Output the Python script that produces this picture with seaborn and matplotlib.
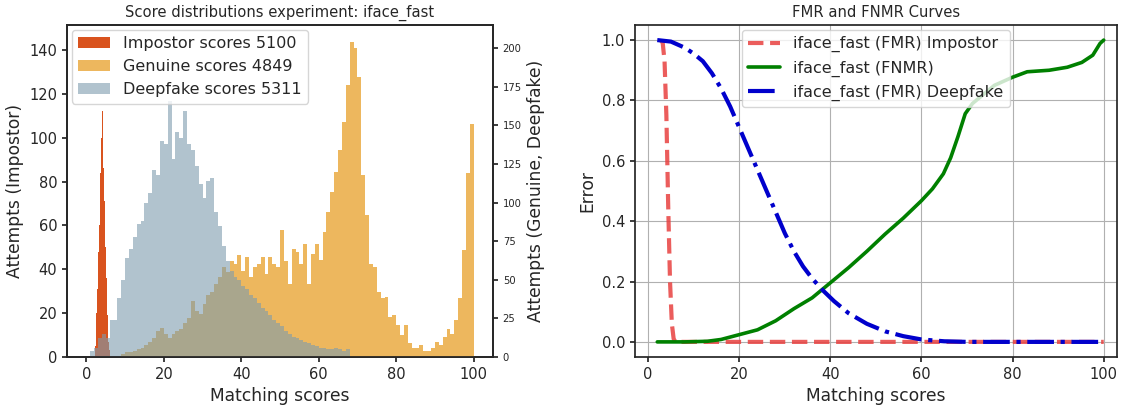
"""Score histograms (impostor / genuine / deepfake) and FMR / FNMR curves for iface_fast."""

import matplotlib
matplotlib.use("Agg")

import matplotlib.pyplot as plt
import numpy as np
import pandas as pd
import seaborn as sns

sns.set_theme(style="ticks")
plt.rcParams["font.family"] = ["DejaVu Sans"]

# impostor counts, 0.1-wide bins starting at score 2.2
impostor_start = 2.2
impostor_counts = [2, 5, 8, 14, 20, 26, 31, 37, 42, 48, 54, 60, 68, 76, 84, 92, 100, 108,
                   145, 112, 103, 95, 86, 78, 71, 64, 58, 50, 43, 36, 30, 24, 19, 14, 10,
                   7, 5, 3, 2, 1]

# deepfake counts, 1-wide bins starting at score 1
deepfake_start = 1
deepfake_counts = [4, 6, 12, 15, 12, 24, 24, 38, 50, 64, 70, 78, 86, 88, 100, 106, 121, 118,
                   140, 138, 166, 128, 146, 142, 159, 138, 134, 124, 112, 103, 114, 116, 94,
                   85, 72, 62, 56, 52, 50, 46, 44, 40, 38, 35, 32, 30, 27, 24, 22, 20, 17,
                   15, 13, 12, 11, 10, 9, 8, 7, 6, 6, 5, 5, 6, 5, 4, 5]

# genuine counts, 1-wide bins starting at score 9
genuine_start = 9
genuine_counts = [2, 3, 3, 4, 5, 6, 8, 10, 12, 17, 19, 15, 12, 15, 17, 18, 22, 25, 36, 30,
                  28, 34, 40, 42, 47, 52, 58, 55, 62, 60, 66, 56, 65, 52, 58, 60, 65, 54, 65,
                  60, 58, 82, 62, 47, 70, 68, 60, 73, 47, 67, 73, 63, 81, 94, 107, 120, 134,
                  152, 176, 204, 200, 181, 118, 92, 60, 58, 42, 38, 39, 26, 27, 21, 14, 21,
                  9, 6, 6, 8, 4, 4, 6, 10, 8, 13, 18, 15, 24, 38, 69, 119, 151]

hist_labels = ["Impostor scores 5100", "Genuine scores 4849", "Deepfake scores 5311"]

# error curves
fmr_imp_x = [2.8, 3.2, 3.6, 4.0, 4.4, 4.8, 5.2, 5.6, 6.0, 20, 40, 60, 80, 100]
fmr_imp_y = [1.0, 0.99, 0.93, 0.75, 0.45, 0.2, 0.06, 0.01, 0.0, 0.0, 0.0, 0.0, 0.0, 0.0]

fnmr_x = [2, 8, 13, 16, 20, 24, 28, 32, 36, 40, 44, 48, 52, 56, 60, 62.4, 64.8, 66.4, 68,
          69.6, 71.2, 73.6, 76, 80, 83.2, 88, 92, 95.2, 97.6, 99.2, 100]
fnmr_y = [0.0, 0.0, 0.002, 0.008, 0.024, 0.04, 0.07, 0.11, 0.146, 0.196, 0.246, 0.30, 0.357,
          0.41, 0.468, 0.507, 0.557, 0.61, 0.68, 0.756, 0.79, 0.82, 0.85, 0.877, 0.895, 0.90,
          0.91, 0.926, 0.95, 0.989, 1.0]

fmr_df_x = [2, 5, 8, 10, 12, 14, 16, 18, 20, 22, 24, 26, 28, 30, 32, 34, 36, 38.4, 40.8, 44,
            48, 52, 56, 60, 65, 70, 80, 90, 100]
fmr_df_y = [1.0, 0.995, 0.975, 0.955, 0.93, 0.89, 0.84, 0.78, 0.71, 0.64, 0.57, 0.50, 0.43,
            0.36, 0.30, 0.25, 0.21, 0.17, 0.135, 0.095, 0.06, 0.035, 0.019, 0.008, 0.002,
            0.0, 0.0, 0.0, 0.0]

curve_labels = ["iface_fast (FMR) Impostor", "iface_fast (FNMR)", "iface_fast (FMR) Deepfake"]


def hist(ax, start, width, counts, color, alpha, label, element="bars"):
    edges = start + width * np.arange(len(counts) + 1)
    df = pd.DataFrame({"score": (edges[:-1] + edges[1:]) / 2, "count": counts})
    sns.histplot(data=df, x="score", weights="count", bins=edges.tolist(), ax=ax,
                 element=element, color=color, alpha=alpha, linewidth=0, label=label)


fig = plt.figure(figsize=(11.23, 4.07), dpi=100)
ax = fig.add_axes([0.0597, 0.1229, 0.3793, 0.8157])
ax2 = ax.twinx()

hist(ax, impostor_start, 0.1, impostor_counts, "#d9531e", 1.0, hist_labels[0], element="step")
hist(ax2, genuine_start, 1.0, genuine_counts, "#e9a331", 0.78, hist_labels[1])
hist(ax2, deepfake_start, 1.0, deepfake_counts, "#7d9cae", 0.6, hist_labels[2])

ax.set_xlim(-5, 105)
ax.set_ylim(0, 151.4)
ax2.set_ylim(0, 215)
ax.set_yticks(range(0, 141, 20))
ax2.set_yticks(range(0, 201, 25))
ax.tick_params(labelsize=10.5, length=3.5)
ax2.tick_params(labelsize=7.2, length=3.5)
ax.set_xlabel("Matching scores", fontsize=12.3)
ax.set_ylabel("Attempts (Impostor)", fontsize=12.3)
ax2.set_ylabel("Attempts (Genuine, Deepfake)", fontsize=12.3)
ax.set_title("Score distributions experiment: iface_fast", fontsize=10.6)

h1, l1 = ax.get_legend_handles_labels()
h2, l2 = ax2.get_legend_handles_labels()
ax2.legend(h1 + h2, l1 + l2, loc="upper left", fontsize=11.5, framealpha=0.8,
           borderaxespad=0.3, handlelength=2.0)

bx = fig.add_axes([0.5654, 0.1229, 0.4292, 0.8157])
sns.lineplot(x=fmr_imp_x, y=fmr_imp_y, ax=bx, color="#e8403f", alpha=0.85, lw=3,
             linestyle="--", label=curve_labels[0])
sns.lineplot(x=fnmr_x, y=fnmr_y, ax=bx, color="green", lw=2.6, label=curve_labels[1])
sns.lineplot(x=fmr_df_x, y=fmr_df_y, ax=bx, color="#0000cc", lw=3, linestyle="-.",
             label=curve_labels[2])
bx.set_xlim(-2.9, 102.9)
bx.set_ylim(-0.05, 1.05)
bx.grid(True, color="#b0b0b0", lw=0.8)
bx.tick_params(labelsize=10.5, length=3.5)
bx.set_xlabel("Matching scores", fontsize=12.3)
bx.set_ylabel("Error", fontsize=12.3)
bx.set_title("FMR and FNMR Curves", fontsize=10.6)
bx.legend(loc="upper center", fontsize=11.5, framealpha=0.8, borderaxespad=0.3)

fig.savefig("out.png", dpi=100)
